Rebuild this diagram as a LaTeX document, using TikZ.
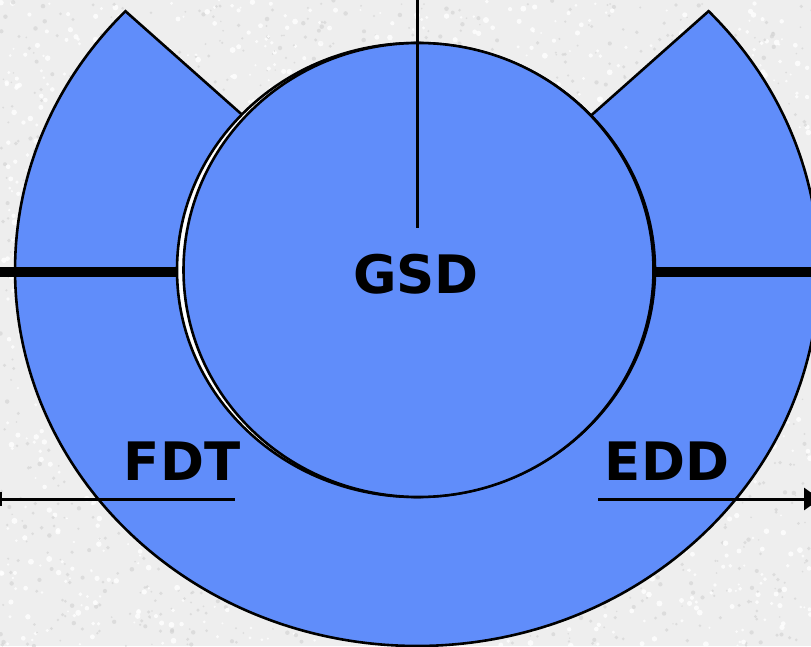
\documentclass[tikz,border=0pt]{standalone}
\usepackage{fontspec}
\setsansfont{DejaVu Sans}
\usetikzlibrary{arrows.meta}
\definecolor{ringblue}{RGB}{96,141,250}
\definecolor{stone}{RGB}{238,238,238}

\begin{document}
\begin{tikzpicture}[x=1pt, y=1pt,
    label/.style={font=\sffamily\bfseries\fontsize{53}{60}\selectfont, inner sep=0pt},
    edge/.style={line width=2.6pt},
    bar/.style={line width=10pt},
    rule/.style={line width=3pt}]
    \useasboundingbox (0,0) rectangle (811,646);
    % granite backdrop
    \fill[stone] (0,0) rectangle (811,646);
    \clip (0,0) rectangle (811,646);
    \pgfmathsetseed{11}
    \foreach \i in {1,...,1800}{
        \fill[white, opacity=0.8] (811*rnd, 646*rnd) circle (1+2*rnd);
        \fill[black!18, opacity=0.6] (811*rnd, 646*rnd) circle (0.8+1.5*rnd);
    }

    \coordinate (c) at (417,376);

    % outer ring with the top wedge cut away
    \filldraw[fill=ringblue, edge] (c) -- ++(43.5:402 and 376)
        arc[start angle=43.5, end angle=-223.5, x radius=402, y radius=376] -- cycle;

    % inner disc (double rim)
    \filldraw[fill=white, edge] (416,376) ellipse[x radius=239, y radius=227];
    \filldraw[fill=ringblue, edge] (418.5,376) ellipse[x radius=235, y radius=227];

    % labels
    \node[label] (gsd) at (416,372) {GSD};
    \node[label] (fdt) at (182,185) {FDT};
    \node[label] (edd) at (667,185) {EDD};

    % axis lines
    \coordinate (top) at (417,646);
    \coordinate (topend) at (417,418);
    \draw[rule] (top) -- (topend);

    \coordinate (lw) at (0,374);
    \coordinate (lwend) at (178,374);
    \coordinate (re) at (655,374);
    \coordinate (reend) at (811,374);
    \draw[bar] (lw) -- (lwend);
    \draw[bar] (re) -- (reend);

    \coordinate (fl) at (0,147);
    \coordinate (flend) at (235,147);
    \draw[rule] (fl) -- (flend);
    \draw[line width=2pt] (0.5,140) -- (0.5,154);

    \coordinate (er) at (598,147);
    \coordinate (erend) at (820,147);
    \draw[rule, -{Triangle[length=16pt, width=22pt]}] (er) -- (erend);
\end{tikzpicture}
\end{document}
